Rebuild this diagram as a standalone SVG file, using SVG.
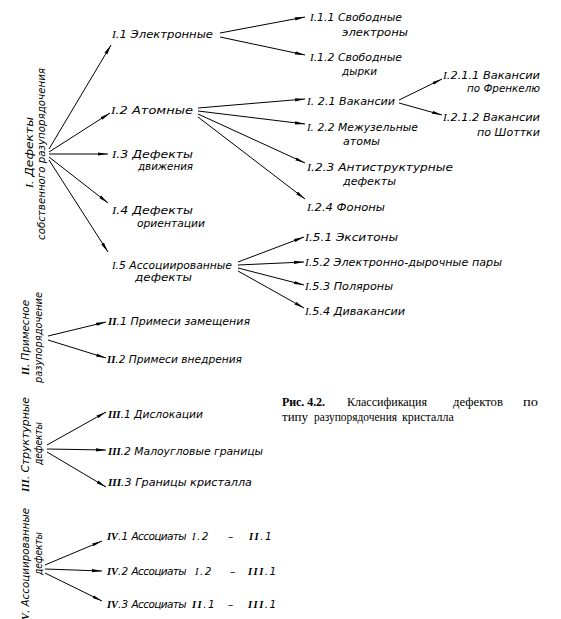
<svg xmlns="http://www.w3.org/2000/svg" width="561" height="619" viewBox="0 0 561 619">
<style>
text{font-family:"DejaVu Sans","Liberation Sans",sans-serif;font-style:italic;font-size:11px;fill:#000}
.r{font-family:"Liberation Serif",serif;font-style:italic}
.rb{font-family:"Liberation Serif",serif;font-style:italic;font-weight:bold}
.cap{font-family:"Liberation Serif",serif;font-style:normal;font-size:12px}
.b{font-weight:bold}
.iv{font-size:10.5px}
.nar{letter-spacing:-0.6px}
.ls{letter-spacing:1.5px}
.e{fill:none;stroke:#000;stroke-width:1;marker-end:url(#ah)}
</style>
<defs>
<marker id="ah" markerWidth="10" markerHeight="4" refX="10" refY="2" orient="auto" markerUnits="userSpaceOnUse">
<path d="M0,0.4 L10,2 L0,3.6 z" fill="#000"/>
</marker>
</defs>
<rect width="561" height="619" fill="#fff"/>
<g id="connectors">
<line class="e" x1="49" y1="149" x2="111" y2="45"/>
<line class="e" x1="49" y1="152" x2="110" y2="113"/>
<line class="e" x1="49" y1="154" x2="108" y2="154"/>
<line class="e" x1="49" y1="157" x2="108" y2="203"/>
<line class="e" x1="49" y1="160" x2="108" y2="252"/>
<line class="e" x1="220" y1="33" x2="305" y2="17"/>
<line class="e" x1="220" y1="37" x2="305" y2="55"/>
<line class="e" x1="198" y1="108" x2="305" y2="99"/>
<line class="e" x1="198" y1="111" x2="305" y2="124"/>
<line class="e" x1="198" y1="114" x2="305" y2="163"/>
<line class="e" x1="198" y1="117" x2="305" y2="199"/>
<line class="e" x1="399" y1="100" x2="442" y2="79"/>
<line class="e" x1="399" y1="103" x2="442" y2="115"/>
<line class="e" x1="238" y1="262" x2="304" y2="237"/>
<line class="e" x1="238" y1="265" x2="304" y2="262"/>
<line class="e" x1="238" y1="268" x2="304" y2="285"/>
<line class="e" x1="238" y1="271" x2="304" y2="308"/>
<line class="e" x1="48" y1="336" x2="106" y2="322"/>
<line class="e" x1="48" y1="340" x2="106" y2="358"/>
<line class="e" x1="47" y1="445" x2="106" y2="412"/>
<line class="e" x1="47" y1="449" x2="106" y2="450"/>
<line class="e" x1="47" y1="452" x2="106" y2="487"/>
<line class="e" x1="45" y1="565" x2="102" y2="541"/>
<line class="e" x1="45" y1="569" x2="102" y2="571"/>
<line class="e" x1="45" y1="573" x2="102" y2="601"/>
</g>
<g id="n-I">
<text transform="translate(33,188) rotate(-90)" textLength="71" lengthAdjust="spacingAndGlyphs"><tspan class="r">I.</tspan> Дефекты</text>
<text transform="translate(45,240) rotate(-90)" textLength="172" lengthAdjust="spacingAndGlyphs">собственного разупорядочения</text>
</g>
<g id="n-I1"><text x="112" y="38" textLength="101" lengthAdjust="spacingAndGlyphs"><tspan class="r">I</tspan>.1 Электронные</text></g>
<g id="n-I2"><text x="111" y="114" textLength="82" lengthAdjust="spacingAndGlyphs"><tspan class="r">I</tspan>.2 Атомные</text></g>
<g id="n-I3"><text x="112" y="158" textLength="81" lengthAdjust="spacingAndGlyphs"><tspan class="r">I</tspan>.3 Дефекты</text><text x="138" y="170" textLength="55" lengthAdjust="spacingAndGlyphs">движения</text></g>
<g id="n-I4"><text x="112" y="214" textLength="81" lengthAdjust="spacingAndGlyphs"><tspan class="r">I</tspan>.4 Дефекты</text><text x="137" y="227" textLength="68" lengthAdjust="spacingAndGlyphs">ориентации</text></g>
<g id="n-I5"><text x="112" y="269" textLength="120" lengthAdjust="spacingAndGlyphs"><tspan class="r">I</tspan>.5 Ассоциированные</text><text x="135" y="281" textLength="57" lengthAdjust="spacingAndGlyphs">дефекты</text></g>
<g id="n-I11"><text x="310" y="21" textLength="92" lengthAdjust="spacingAndGlyphs"><tspan class="r">I</tspan>.1.1 Свободные</text><text x="342" y="36" textLength="66" lengthAdjust="spacingAndGlyphs">электроны</text></g>
<g id="n-I12"><text x="310" y="61" textLength="92" lengthAdjust="spacingAndGlyphs"><tspan class="r">I</tspan>.1.2 Свободные</text><text x="342" y="75" textLength="35" lengthAdjust="spacingAndGlyphs">дырки</text></g>
<g id="n-I21"><text x="307" y="105" textLength="88" lengthAdjust="spacingAndGlyphs"><tspan class="r">I</tspan>. 2.1 Вакансии</text></g>
<g id="n-I22"><text x="307" y="131" textLength="111" lengthAdjust="spacingAndGlyphs"><tspan class="r">I</tspan>. 2.2 Межузельные</text><text x="343" y="145" textLength="37" lengthAdjust="spacingAndGlyphs">атомы</text></g>
<g id="n-I23"><text x="307" y="171" textLength="146" lengthAdjust="spacingAndGlyphs"><tspan class="r">I</tspan>.2.3 Антиструктурные</text><text x="343" y="185" textLength="53" lengthAdjust="spacingAndGlyphs">дефекты</text></g>
<g id="n-I24"><text x="307" y="211" textLength="78" lengthAdjust="spacingAndGlyphs"><tspan class="r">I</tspan>.2.4 Фононы</text></g>
<g id="n-I211"><text x="443" y="79" textLength="97" lengthAdjust="spacingAndGlyphs"><tspan class="r">I</tspan>.2.1.1  Вакансии</text><text x="540" y="92" text-anchor="end" textLength="73" lengthAdjust="spacingAndGlyphs">по Френкелю</text></g>
<g id="n-I212"><text x="443" y="121" textLength="97" lengthAdjust="spacingAndGlyphs"><tspan class="r">I</tspan>.2.1.2  Вакансии</text><text x="540" y="136" text-anchor="end" textLength="63" lengthAdjust="spacingAndGlyphs">по Шоттки</text></g>
<g id="n-I51"><text x="305" y="241" textLength="93" lengthAdjust="spacingAndGlyphs"><tspan class="r">I</tspan>.5.1 Экситоны</text></g>
<g id="n-I52"><text x="305" y="266" textLength="197" lengthAdjust="spacingAndGlyphs"><tspan class="r">I</tspan>.5.2 Электронно-дырочные пары</text></g>
<g id="n-I53"><text x="305" y="290" textLength="88" lengthAdjust="spacingAndGlyphs"><tspan class="r">I</tspan>.5.3 Поляроны</text></g>
<g id="n-I54"><text x="305" y="315" textLength="100" lengthAdjust="spacingAndGlyphs"><tspan class="r">I</tspan>.5.4 Дивакансии</text></g>
<g id="n-II">
<text transform="translate(29,375) rotate(-90)" textLength="75" lengthAdjust="spacingAndGlyphs"><tspan class="rb">II</tspan>. Примесное</text>
<text transform="translate(42,383) rotate(-90)" textLength="91" lengthAdjust="spacingAndGlyphs">разупорядочение</text>
</g>
<g id="n-II1"><text x="108" y="325" textLength="142" lengthAdjust="spacingAndGlyphs"><tspan class="rb">II</tspan>.1  Примеси замещения</text></g>
<g id="n-II2"><text x="107" y="363" textLength="135" lengthAdjust="spacingAndGlyphs"><tspan class="rb">II</tspan>.2 Примеси внедрения</text></g>
<g id="n-III">
<text transform="translate(29,492) rotate(-90)" textLength="95" lengthAdjust="spacingAndGlyphs"><tspan class="rb">III</tspan>. Структурные</text>
<text transform="translate(42,465) rotate(-90)" textLength="43" lengthAdjust="spacingAndGlyphs">дефекты</text>
</g>
<g id="n-III1"><text x="108" y="418" textLength="95" lengthAdjust="spacingAndGlyphs"><tspan class="rb">III</tspan>.1 Дислокации</text></g>
<g id="n-III2"><text x="108" y="455" textLength="155" lengthAdjust="spacingAndGlyphs"><tspan class="rb">III</tspan>.2 Малоугловые границы</text></g>
<g id="n-III3"><text x="108" y="486" textLength="144" lengthAdjust="spacingAndGlyphs"><tspan class="rb">III</tspan>.3 Границы кристалла</text></g>
<g id="n-IV">
<text transform="translate(29,624) rotate(-90)" textLength="116" lengthAdjust="spacingAndGlyphs"><tspan class="rb">IV</tspan>. Ассоциированные</text>
<text transform="translate(42,575) rotate(-90)" textLength="43" lengthAdjust="spacingAndGlyphs">дефекты</text>
</g>
<g id="n-IV1"><text class="iv" x="107" y="540"><tspan class="rb">IV</tspan>.1 <tspan class="nar">Ассоциаты</tspan><tspan x="192" class="r ls">I</tspan><tspan class="ls">.2</tspan><tspan x="228">–</tspan><tspan x="249" class="rb ls">II</tspan><tspan class="ls">.1</tspan></text></g>
<g id="n-IV2"><text class="iv" x="107" y="575"><tspan class="rb">IV</tspan>.2 <tspan class="nar">Ассоциаты</tspan><tspan x="195" class="r ls">I</tspan><tspan class="ls">.2</tspan><tspan x="230">–</tspan><tspan x="248" class="rb ls">III</tspan><tspan class="ls">.1</tspan></text></g>
<g id="n-IV3"><text class="iv" x="107" y="608"><tspan class="rb">IV</tspan>.3 <tspan class="nar">Ассоциаты</tspan><tspan x="192" class="rb ls">II</tspan><tspan class="ls">.1</tspan><tspan x="228">–</tspan><tspan x="248" class="rb ls">III</tspan><tspan class="ls">.1</tspan></text></g>
<g id="caption">
<text class="cap b" x="282" y="406" textLength="43">Рис. 4.2.</text>
<text class="cap" x="347" y="406" textLength="80" lengthAdjust="spacingAndGlyphs">Классификация</text>
<text class="cap" x="453" y="406" textLength="50" lengthAdjust="spacingAndGlyphs">дефектов</text>
<text class="cap" x="523" y="406" textLength="15" lengthAdjust="spacingAndGlyphs">по</text>
<text class="cap" x="282" y="421" textLength="26" lengthAdjust="spacingAndGlyphs">типу</text>
<text class="cap" x="314" y="421" textLength="83" lengthAdjust="spacingAndGlyphs">разупорядочения</text>
<text class="cap" x="402" y="421">кристалла</text>
</g>
</svg>
